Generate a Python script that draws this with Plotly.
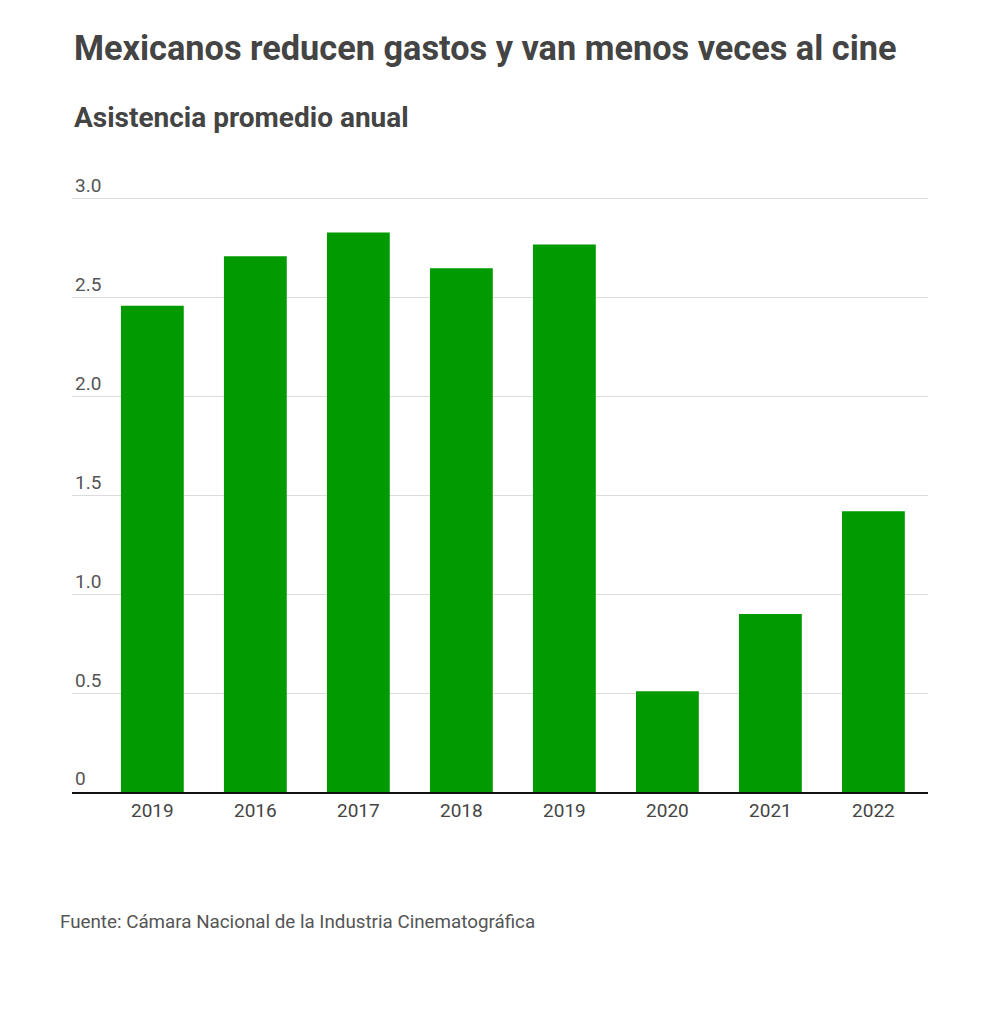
import plotly.graph_objects as go

# Datos: asistencia promedio anual al cine
anios = ["2019", "2016", "2017", "2018", "2019", "2020", "2021", "2022"]
asistencia = [2.46, 2.71, 2.83, 2.65, 2.77, 0.51, 0.90, 1.42]
posiciones = list(range(len(anios)))  # hay dos "2019", se usan posiciones

y_ticks = [0, 0.5, 1.0, 1.5, 2.0, 2.5, 3.0]
y_ticktext = ["0", "0.5", "1.0", "1.5", "2.0", "2.5", "3.0"]

W, H = 1000, 1014
# la página tiene 8px de margen en el body
L, R, T, B = 64, 80, 189, 230
PW, PH = W - L - R, H - T - B

fig = go.Figure(
    go.Bar(
        x=posiciones,
        y=asistencia,
        marker_color="#019b01",
        marker_line_width=0,
        hovertemplate="%{y}<extra></extra>",
    )
)

fig.update_layout(
    width=W,
    height=H,
    margin=dict(l=L, r=R, t=T, b=B),
    plot_bgcolor="white",
    paper_bgcolor="white",
    font=dict(family="Roboto", size=19, color="#444"),
    bargap=0.39,
    showlegend=False,
    title=dict(
        text="<b>Mexicanos reducen gastos y van menos veces al cine</b>",
        x=66 / W,
        xanchor="left",
        y=1 - 40 / H,
        yanchor="middle",
        yref="container",
        font=dict(family="Roboto", size=34.3, color="#444"),
    ),
    xaxis=dict(
        tickmode="array",
        tickvals=posiciones,
        ticktext=anios,
        range=[-0.78, 7.53],
        showline=True,
        linecolor="#111",
        linewidth=2,
        showgrid=False,
        ticks="",
        tickfont=dict(size=19, color="#444"),
    ),
    yaxis=dict(
        range=[0, 3.01],
        tickmode="array",
        tickvals=y_ticks,
        ticktext=y_ticktext,
        ticklabelposition="inside top",
        ticklabeloverflow="allow",
        showgrid=True,
        gridcolor="#dcdcdc",
        gridwidth=1,
        zeroline=False,
        showline=False,
        ticks="",
        tickfont=dict(size=19, color="#555"),
    ),
)

fig.add_annotation(
    text="<b>Asistencia promedio anual</b>",
    xref="paper", yref="paper",
    x=(64 - L) / PW, y=(H - B - 109) / PH,
    xanchor="left", yanchor="middle",
    showarrow=False,
    font=dict(family="Roboto", size=28, color="#444"),
)

fig.add_annotation(
    text="Fuente: Cámara Nacional de la Industria Cinematográfica",
    xref="paper", yref="paper",
    x=(50 - L) / PW, y=(H - B - 914) / PH,
    xanchor="left", yanchor="middle",
    showarrow=False,
    font=dict(family="Roboto", size=18.8, color="#555"),
)

fig.write_html("out.html")
